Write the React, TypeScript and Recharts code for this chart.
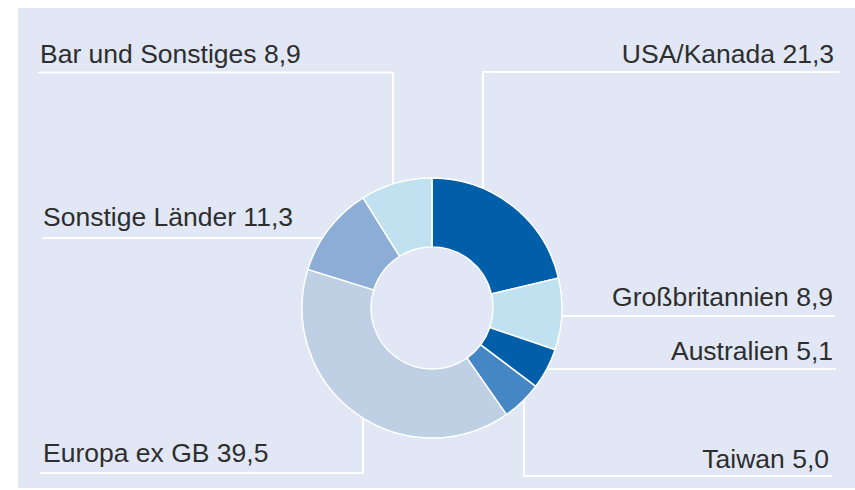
import React from "react";
import { PieChart, Pie, Cell } from "recharts";

const categories = [
  "USA/Kanada",
  "Großbritannien",
  "Australien",
  "Taiwan",
  "Europa ex GB",
  "Sonstige Länder",
  "Bar und Sonstiges",
];
const shares = [21.3, 8.9, 5.1, 5.0, 39.5, 11.3, 8.9];
const valueLabels = ["21,3", "8,9", "5,1", "5,0", "39,5", "11,3", "8,9"];
const colors = ["#005fa8", "#c0e1f0", "#005fa8", "#4587c4", "#bfcfe4", "#8cadd6", "#c0e1f0"];

// label layout (positions only)
type Layout = {
  side: "left" | "right";
  textX: number;
  baseline: number;
  lineY: number;
  lineOuterX: number;
  vertX?: number;
};
const labelLayout: Layout[] = [
  { side: "right", textX: 834, baseline: 63, lineY: 72, lineOuterX: 840, vertX: 483 },
  { side: "right", textX: 833, baseline: 306, lineY: 316, lineOuterX: 835 },
  { side: "right", textX: 833, baseline: 360, lineY: 369, lineOuterX: 836 },
  { side: "right", textX: 829, baseline: 468, lineY: 476, lineOuterX: 832, vertX: 524 },
  { side: "left", textX: 43, baseline: 462, lineY: 473, lineOuterX: 40, vertX: 363 },
  { side: "left", textX: 43, baseline: 226, lineY: 238, lineOuterX: 42 },
  { side: "left", textX: 40, baseline: 63, lineY: 72.5, lineOuterX: 38, vertX: 393 },
];

const data = categories.map((name, i) => ({ name, value: shares[i], label: valueLabels[i] }));

const renderLabel = (props: any) => {
  const { cx, cy, outerRadius, index } = props;
  const L = labelLayout[index];
  const d = data[index];
  let points: string;
  if (L.vertX !== undefined) {
    const dx = L.vertX - cx;
    const h = Math.sqrt(Math.max(outerRadius * outerRadius - dx * dx, 0));
    const yEdge = L.lineY < cy ? cy - h : cy + h;
    points = `${L.lineOuterX},${L.lineY} ${L.vertX},${L.lineY} ${L.vertX},${yEdge}`;
  } else {
    const dy = L.lineY - cy;
    const w = Math.sqrt(Math.max(outerRadius * outerRadius - dy * dy, 0));
    const xEdge = L.side === "left" ? cx - w : cx + w;
    points = `${L.lineOuterX},${L.lineY} ${xEdge},${L.lineY}`;
  }
  return (
    <g key={`lbl-${index}`}>
      <polyline points={points} fill="none" stroke="#ffffff" strokeWidth={2} />
      <text
        x={L.textX}
        y={L.baseline}
        textAnchor={L.side === "left" ? "start" : "end"}
        fill="#2e2e2e"
        fontSize={26.5}
        fontFamily="'Liberation Sans', Arial, sans-serif"
      >
        {`${d.name} ${d.label}`}
      </text>
    </g>
  );
};

export default function App() {
  return (
    <div style={{ position: "absolute", left: 0, top: 0, width: 855, height: 490, background: "#ffffff" }}>
      <div style={{ position: "absolute", left: 18, top: 8, width: 837, height: 480, background: "#e1e7f4" }} />
      <div style={{ position: "absolute", left: 0, top: 0 }}>
        <PieChart width={855} height={490} margin={{ top: 0, right: 0, bottom: 0, left: 0 }}>
          <Pie
            data={data}
            dataKey="value"
            nameKey="name"
            cx={432}
            cy={308}
            outerRadius={130}
            innerRadius={61}
            startAngle={90}
            endAngle={-270}
            stroke="#ffffff"
            strokeWidth={1.5}
            label={renderLabel}
            labelLine={false}
            isAnimationActive={false}
          >
            {data.map((_, i) => (
              <Cell key={i} fill={colors[i]} />
            ))}
          </Pie>
        </PieChart>
      </div>
    </div>
  );
}
